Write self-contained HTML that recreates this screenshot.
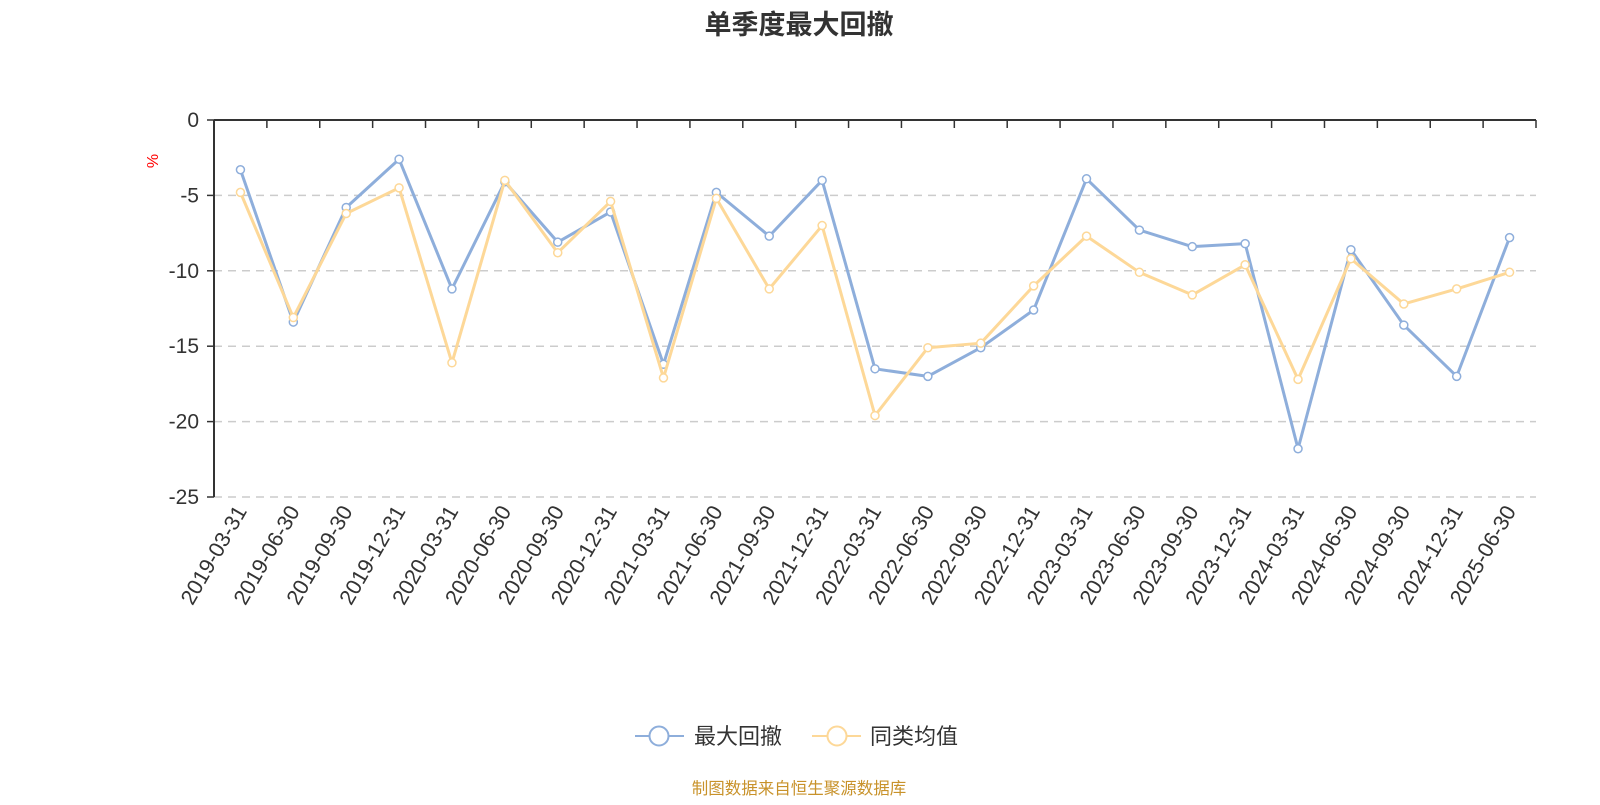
<!DOCTYPE html>
<html><head><meta charset="utf-8"><style>
body{margin:0;background:#fff;}
svg text{font-family:"Liberation Sans","Noto Sans CJK SC",sans-serif;}
</style></head><body>
<svg id="chart" width="1600" height="800" xmlns="http://www.w3.org/2000/svg">
<text x="799" y="34" text-anchor="middle" font-size="27" font-weight="bold" fill="#333">单季度最大回撤</text>
<text transform="translate(158,161) rotate(-90)" text-anchor="middle" font-size="16" fill="#f00">%</text>
<g id="grid"></g><g id="axes"></g><g id="series"></g>
<g>
<g>
<line x1="635" y1="736" x2="684" y2="736" stroke="#8eaedb" stroke-width="2"/>
<circle cx="659" cy="736" r="9.5" fill="#fff" stroke="#8eaedb" stroke-width="2"/>
<text x="694" y="744" font-size="22" fill="#333">最大回撤</text></g>
<g>
<line x1="812" y1="736" x2="861" y2="736" stroke="#fdd898" stroke-width="2"/>
<circle cx="837" cy="736" r="9.5" fill="#fff" stroke="#fdd898" stroke-width="2"/>
<text x="870" y="744" font-size="22" fill="#333">同类均值</text></g>
</g>
<text x="799" y="794" text-anchor="middle" font-size="16.5" fill="#c8922a">制图数据来自恒生聚源数据库</text>
</svg>
<script>
const categories=["2019-03-31","2019-06-30","2019-09-30","2019-12-31","2020-03-31","2020-06-30","2020-09-30","2020-12-31","2021-03-31","2021-06-30","2021-09-30","2021-12-31","2022-03-31","2022-06-30","2022-09-30","2022-12-31","2023-03-31","2023-06-30","2023-09-30","2023-12-31","2024-03-31","2024-06-30","2024-09-30","2024-12-31","2025-06-30"];
const maxDrawdown=[-3.3,-13.4,-5.8,-2.6,-11.2,-4.1,-8.1,-6.1,-16.2,-4.8,-7.7,-4.0,-16.5,-17.0,-15.1,-12.6,-3.9,-7.3,-8.4,-8.2,-21.8,-8.6,-13.6,-17.0,-7.8];
const peerAverage=[-4.8,-13.1,-6.2,-4.5,-16.1,-4.0,-8.8,-5.4,-17.1,-5.2,-11.2,-7.0,-19.6,-15.1,-14.8,-11.0,-7.7,-10.1,-11.6,-9.6,-17.2,-9.2,-12.2,-11.2,-10.1];
const yTicks=[0,-5,-10,-15,-20,-25];
const NS="http://www.w3.org/2000/svg";
const L=214,R=1536,T=120,B=497,yMin=-25,yMax=0;
const bw=(R-L)/categories.length;
const xs=i=>L+bw*(i+0.5);
const ys=v=>T+(yMax-v)/(yMax-yMin)*(B-T);
function mk(tag,attrs,parent){const e=document.createElementNS(NS,tag);for(const k in attrs)e.setAttribute(k,attrs[k]);parent.appendChild(e);return e;}
const grid=document.getElementById('grid'),axes=document.getElementById('axes'),ser=document.getElementById('series');
yTicks.forEach(t=>{
  const y=ys(t);
  if(t!==0){const g=mk('line',{x1:L,x2:R,y1:y,y2:y,stroke:'#ccc','stroke-dasharray':'8,6','stroke-width':1.5},grid);
  
  }
  mk('line',{x1:L-7,x2:L,y1:y,y2:y,stroke:'#333','stroke-width':1.5},axes);
  const tx=mk('text',{x:L-15,y:y+7,'text-anchor':'end','font-size':21,fill:'#333'},axes);
  tx.textContent=t;
  
  
});
const ya=mk('line',{x1:L,x2:L,y1:T,y2:B,stroke:'#333','stroke-width':2},axes);


const xa=mk('line',{x1:L,x2:R,y1:T,y2:T,stroke:'#333','stroke-width':2},axes);


for(let i=0;i<=categories.length;i++){const x=L+bw*i;mk('line',{x1:x,x2:x,y1:T,y2:T+8,stroke:'#333','stroke-width':1.5},axes);}
categories.forEach((c,i)=>{
  const tx=mk('text',{transform:`translate(${xs(i)+7},${B+14}) rotate(-60)`,'text-anchor':'end','font-size':21.5,fill:'#333'},axes);
  tx.textContent=c;
  
  
});
function draw(vals,color,name){
  const g=mk('g',{},ser);
  
  
  const pl=mk('polyline',{points:vals.map((v,i)=>xs(i)+','+ys(v)).join(' '),fill:'none',stroke:color,'stroke-width':3,'stroke-linejoin':'round'},g);
  
  
  vals.forEach((v,i)=>{const c=mk('circle',{cx:xs(i),cy:ys(v),r:4,fill:'#fff',stroke:color,'stroke-width':1.5},g);
    
    });
}
draw(maxDrawdown,'#8eaedb','max-drawdown-series');
draw(peerAverage,'#fdd898','peer-average-series');
</script>
</body></html>
